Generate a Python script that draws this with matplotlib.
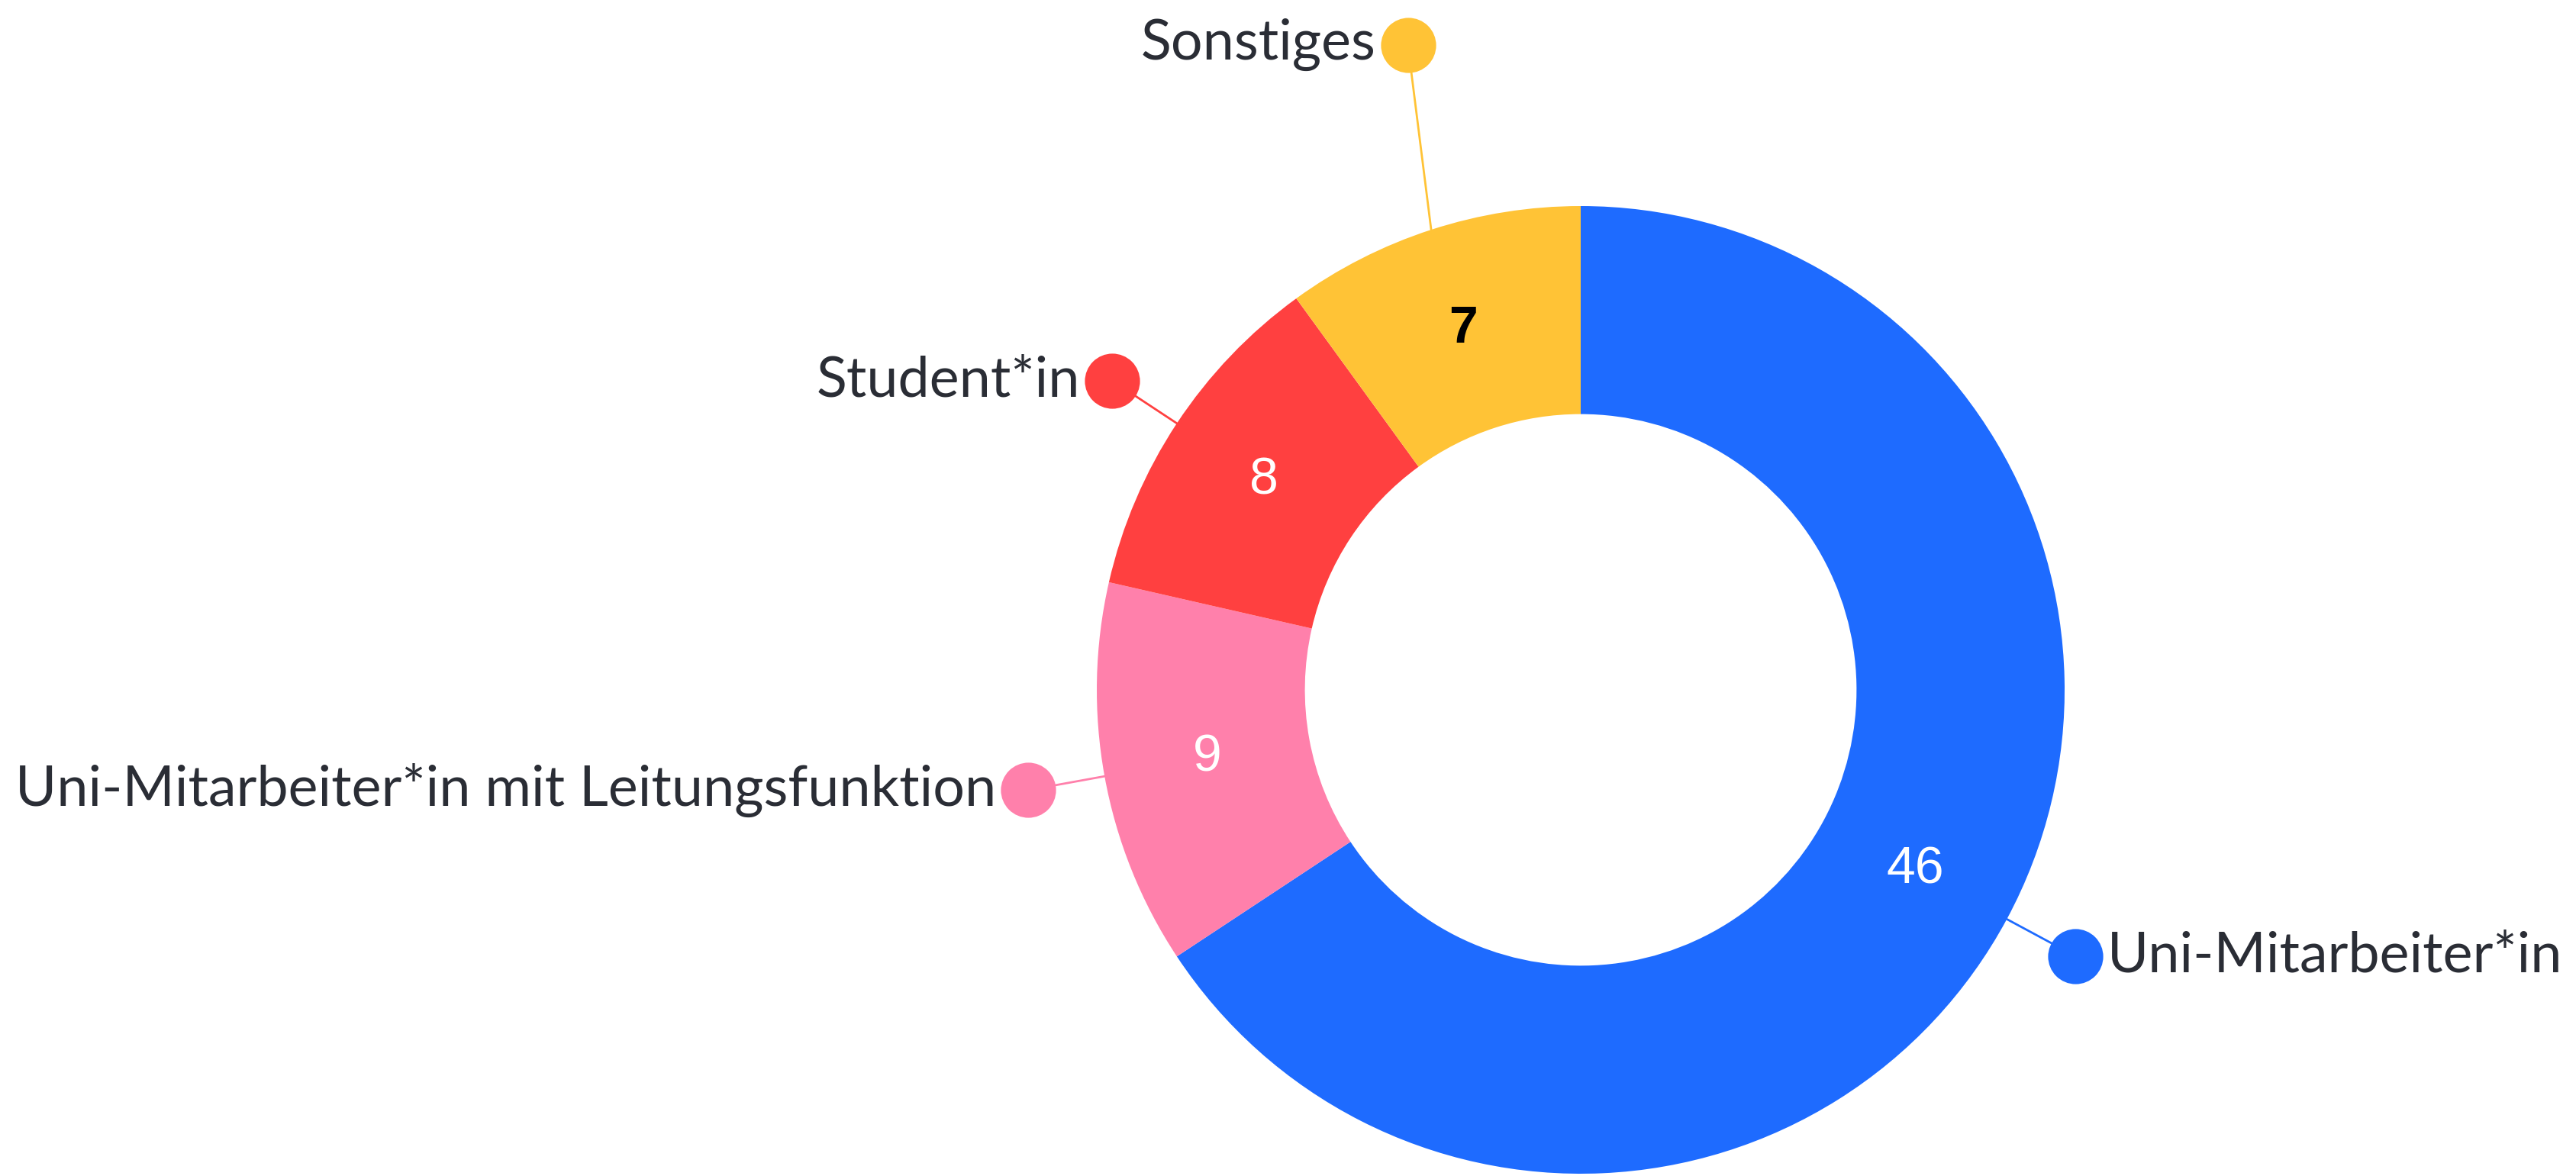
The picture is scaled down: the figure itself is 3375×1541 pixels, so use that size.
import matplotlib
matplotlib.use("Agg")
import matplotlib.pyplot as plt
import numpy as np

categories = ["Uni-Mitarbeiter*in", "Uni-Mitarbeiter*in mit Leitungsfunktion", "Student*in", "Sonstiges"]
values = [46, 9, 8, 7]
colors = ["#1E6BFF", "#FF80AB", "#FF4040", "#FFC336"]
value_colors = ["white", "white", "white", "black"]
value_weights = ["normal", "normal", "normal", "bold"]

W, H, DPI = 3375, 1541, 100
fig = plt.figure(figsize=(W / DPI, H / DPI), dpi=DPI)
ax = fig.add_axes([0, 0, 1, 1])

cx, cy, R = 2071, 1541 - 904, 634
inner = 0.57

wedges, _ = ax.pie(values, colors=colors, startangle=90, counterclock=False,
                   radius=1, wedgeprops=dict(width=1 - inner, linewidth=0))

ax.set_xlim(-cx / R, (W - cx) / R)
ax.set_ylim(-cy / R, (H - cy) / R)
ax.set_aspect("auto")
ax.axis("off")

font = "Lato"
txt_color = "#2A2D35"
mid_r = (1 + inner) / 2
dot_r = [1.16, 1.16, 1.16, 1.38]
dot_da = [0, 0, 0, -3]
side = ["right", "left", "left", "left"]

for i, w in enumerate(wedges):
    ang = (w.theta1 + w.theta2) / 2
    a = np.deg2rad(ang)
    ax.text(mid_r * np.cos(a), mid_r * np.sin(a), str(values[i]), ha="center", va="center",
            fontsize=49, color=value_colors[i], fontweight=value_weights[i],
            family="Liberation Sans")
    ex, ey = np.cos(a), np.sin(a)
    ad = np.deg2rad(ang + dot_da[i])
    dx, dy = dot_r[i] * np.cos(ad), dot_r[i] * np.sin(ad)
    ax.plot([ex, dx], [ey, dy], color=colors[i], lw=2.0, solid_capstyle="round", zorder=3)
    ax.plot([dx], [dy], "o", ms=52, color=colors[i], mec="none", zorder=4)
    gap = 0.066
    if side[i] == "right":
        ax.text(dx + gap, dy, categories[i], ha="left", va="center", fontsize=53,
                color=txt_color, family=font)
    else:
        ax.text(dx - gap, dy, categories[i], ha="right", va="center", fontsize=53,
                color=txt_color, family=font)

fig.savefig("out.png", dpi=DPI, facecolor="white")
